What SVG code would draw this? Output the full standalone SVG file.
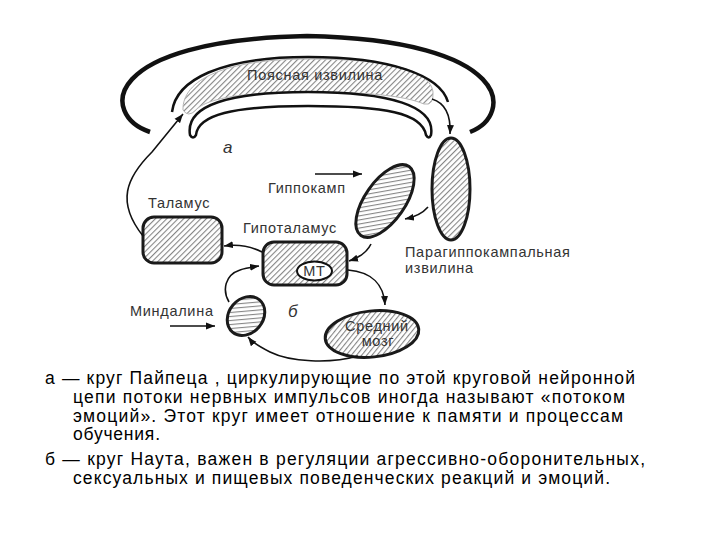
<svg xmlns="http://www.w3.org/2000/svg" width="720" height="540" viewBox="0 0 720 540">
<defs>
  <pattern id="hatch" width="4" height="4" patternUnits="userSpaceOnUse" patternTransform="rotate(45)">
    <rect width="4" height="4" fill="#ffffff"/>
    <line x1="0.6" y1="0" x2="0.6" y2="4" stroke="#7a7a7a" stroke-width="1"/>
  </pattern>
  <marker id="arr" markerWidth="10" markerHeight="8" refX="9" refY="4" orient="auto" markerUnits="userSpaceOnUse">
    <path d="M0,0.5 L9,4 L0,7.5 Z" fill="#111"/>
  </marker>
</defs>
<style>
  .lbl { font-family: "Liberation Sans", Arial, sans-serif; font-size: 14.5px; letter-spacing: 0.7px; fill: #333; }
  .ital { font-family: "Liberation Sans", Arial, sans-serif; font-size: 17px; font-style: italic; fill: #333; }
  .body { font-family: "Liberation Sans", Arial, sans-serif; font-size: 17.5px; fill: #000; }
  .node { fill: url(#hatch); stroke: #1a1a1a; stroke-width: 3; }
  .conn { fill: none; stroke: #111; stroke-width: 1.6; marker-end: url(#arr); }
  .thick { fill: none; stroke: #111; }
</style>

<g id="outer-arc">
  <path class="thick" stroke-width="4.5" d="M150,132 C 100,115 100,40 307,36 C 514,40 514,115 470,132"/>
</g>

<g id="cingulate">
  <path d="M183,110 C 182,80 225,59 308,59 C 390,59 430,70 433,92 Q 434,106 424,104 C 405,96 370,92 308,92 C 235,92 205,100 196,110 Q 188,118 183,110 Z" fill="url(#hatch)" stroke="#b5b5b5" stroke-width="1"/>
  <path class="thick" stroke-width="2.5" d="M172,112 C 176,80 220,57 308,57 C 390,57 440,75 448,102"/>
  <path d="M190,135 C 185,105 230,92 308,92 C 390,92 436,106 431,135 Q 429,140 426,135 C 422,113 385,106 308,106 C 232,106 198,115 196,135 Q 193,140 190,135 Z" fill="#fff" stroke="#111" stroke-width="2.5" stroke-linejoin="round"/>
  <text class="lbl" x="315" y="80" text-anchor="middle">Поясная извилина</text>
</g>

<g id="parahippocampal">
  <ellipse class="node" cx="451" cy="189" rx="19" ry="51" stroke-width="2.5"/>
  <text class="lbl" x="405" y="257">Парагиппокампальная</text>
  <text class="lbl" x="405" y="273">извилина</text>
</g>

<g id="hippocampus">
  <ellipse class="node" cx="385" cy="201" rx="20" ry="42" transform="rotate(35 385 201)" stroke-width="2.5"/>
  <text class="lbl" x="268" y="193">Гиппокамп</text>
</g>

<g id="thalamus">
  <rect class="node" x="143" y="217" width="79" height="46" rx="11"/>
  <text class="lbl" x="148" y="208">Таламус</text>
</g>

<g id="hypothalamus">
  <rect class="node" x="263" y="242" width="84" height="43" rx="11"/>
  <ellipse cx="314.5" cy="271" rx="17.5" ry="9.5" fill="#fff" stroke="#111" stroke-width="2"/>
  <text class="lbl" x="314.5" y="276" text-anchor="middle">МТ</text>
  <text class="lbl" x="243" y="233">Гипоталамус</text>
</g>

<g id="amygdala">
  <ellipse class="node" cx="246" cy="316" rx="17" ry="21" transform="rotate(40 246 316)" stroke-width="2.5"/>
  <text class="lbl" x="130" y="316">Миндалина</text>
</g>

<g id="midbrain">
  <ellipse class="node" cx="372" cy="334" rx="47" ry="23" transform="rotate(-6 372 334)" stroke-width="4"/>
  <text class="lbl" x="377" y="331" text-anchor="middle">Средний</text>
  <text class="lbl" x="378" y="346" text-anchor="middle">мозг</text>
</g>

<g id="circle-labels">
  <text class="ital" x="223" y="153">а</text>
  <text class="ital" x="288" y="317">б</text>
</g>

<g id="connectors">
  <path class="conn" d="M143,236 C 116,202 126,178 152,152 L 183,114"/>
  <path class="conn" d="M432,99 C 445,103 451,115 450,134"/>
  <path class="conn" d="M428,207 C 422,214 415,217 405,219"/>
  <path class="conn" d="M371,244 C 366,254 358,258 349,261"/>
  <path class="conn" d="M262,252 C 250,246 238,244 224,246"/>
  <path class="conn" d="M229,302 C 222,290 225,275 240,270 C 245,268 252,267 259,266"/>
  <path class="conn" d="M348,270 C 372,272 384,285 385,305"/>
  <path class="conn" d="M358,356 C 330,364 290,362 270,352 C 260,347 252,342 248,337"/>
  <path class="conn" d="M315,174 L 362,174"/>
  <path class="conn" d="M170,326 L 215,326"/>
</g>

<g id="caption">
  <text class="body" x="45" y="383.5" textLength="590" lengthAdjust="spacing">а — круг Пайпеца , циркулирующие по этой круговой нейронной</text>
  <text class="body" x="73" y="402.5" textLength="552" lengthAdjust="spacing">цепи потоки нервных импульсов иногда называют «потоком</text>
  <text class="body" x="73" y="421.5" textLength="550" lengthAdjust="spacing">эмоций». Этот круг имеет отношение к памяти и процессам</text>
  <text class="body" x="73" y="440" textLength="87" lengthAdjust="spacing">обучения.</text>
  <text class="body" x="45" y="465" textLength="600" lengthAdjust="spacing">б — круг Наута, важен в регуляции агрессивно-оборонительных,</text>
  <text class="body" x="73" y="484" textLength="537" lengthAdjust="spacing">сексуальных и пищевых поведенческих реакций и эмоций.</text>
</g>
</svg>
